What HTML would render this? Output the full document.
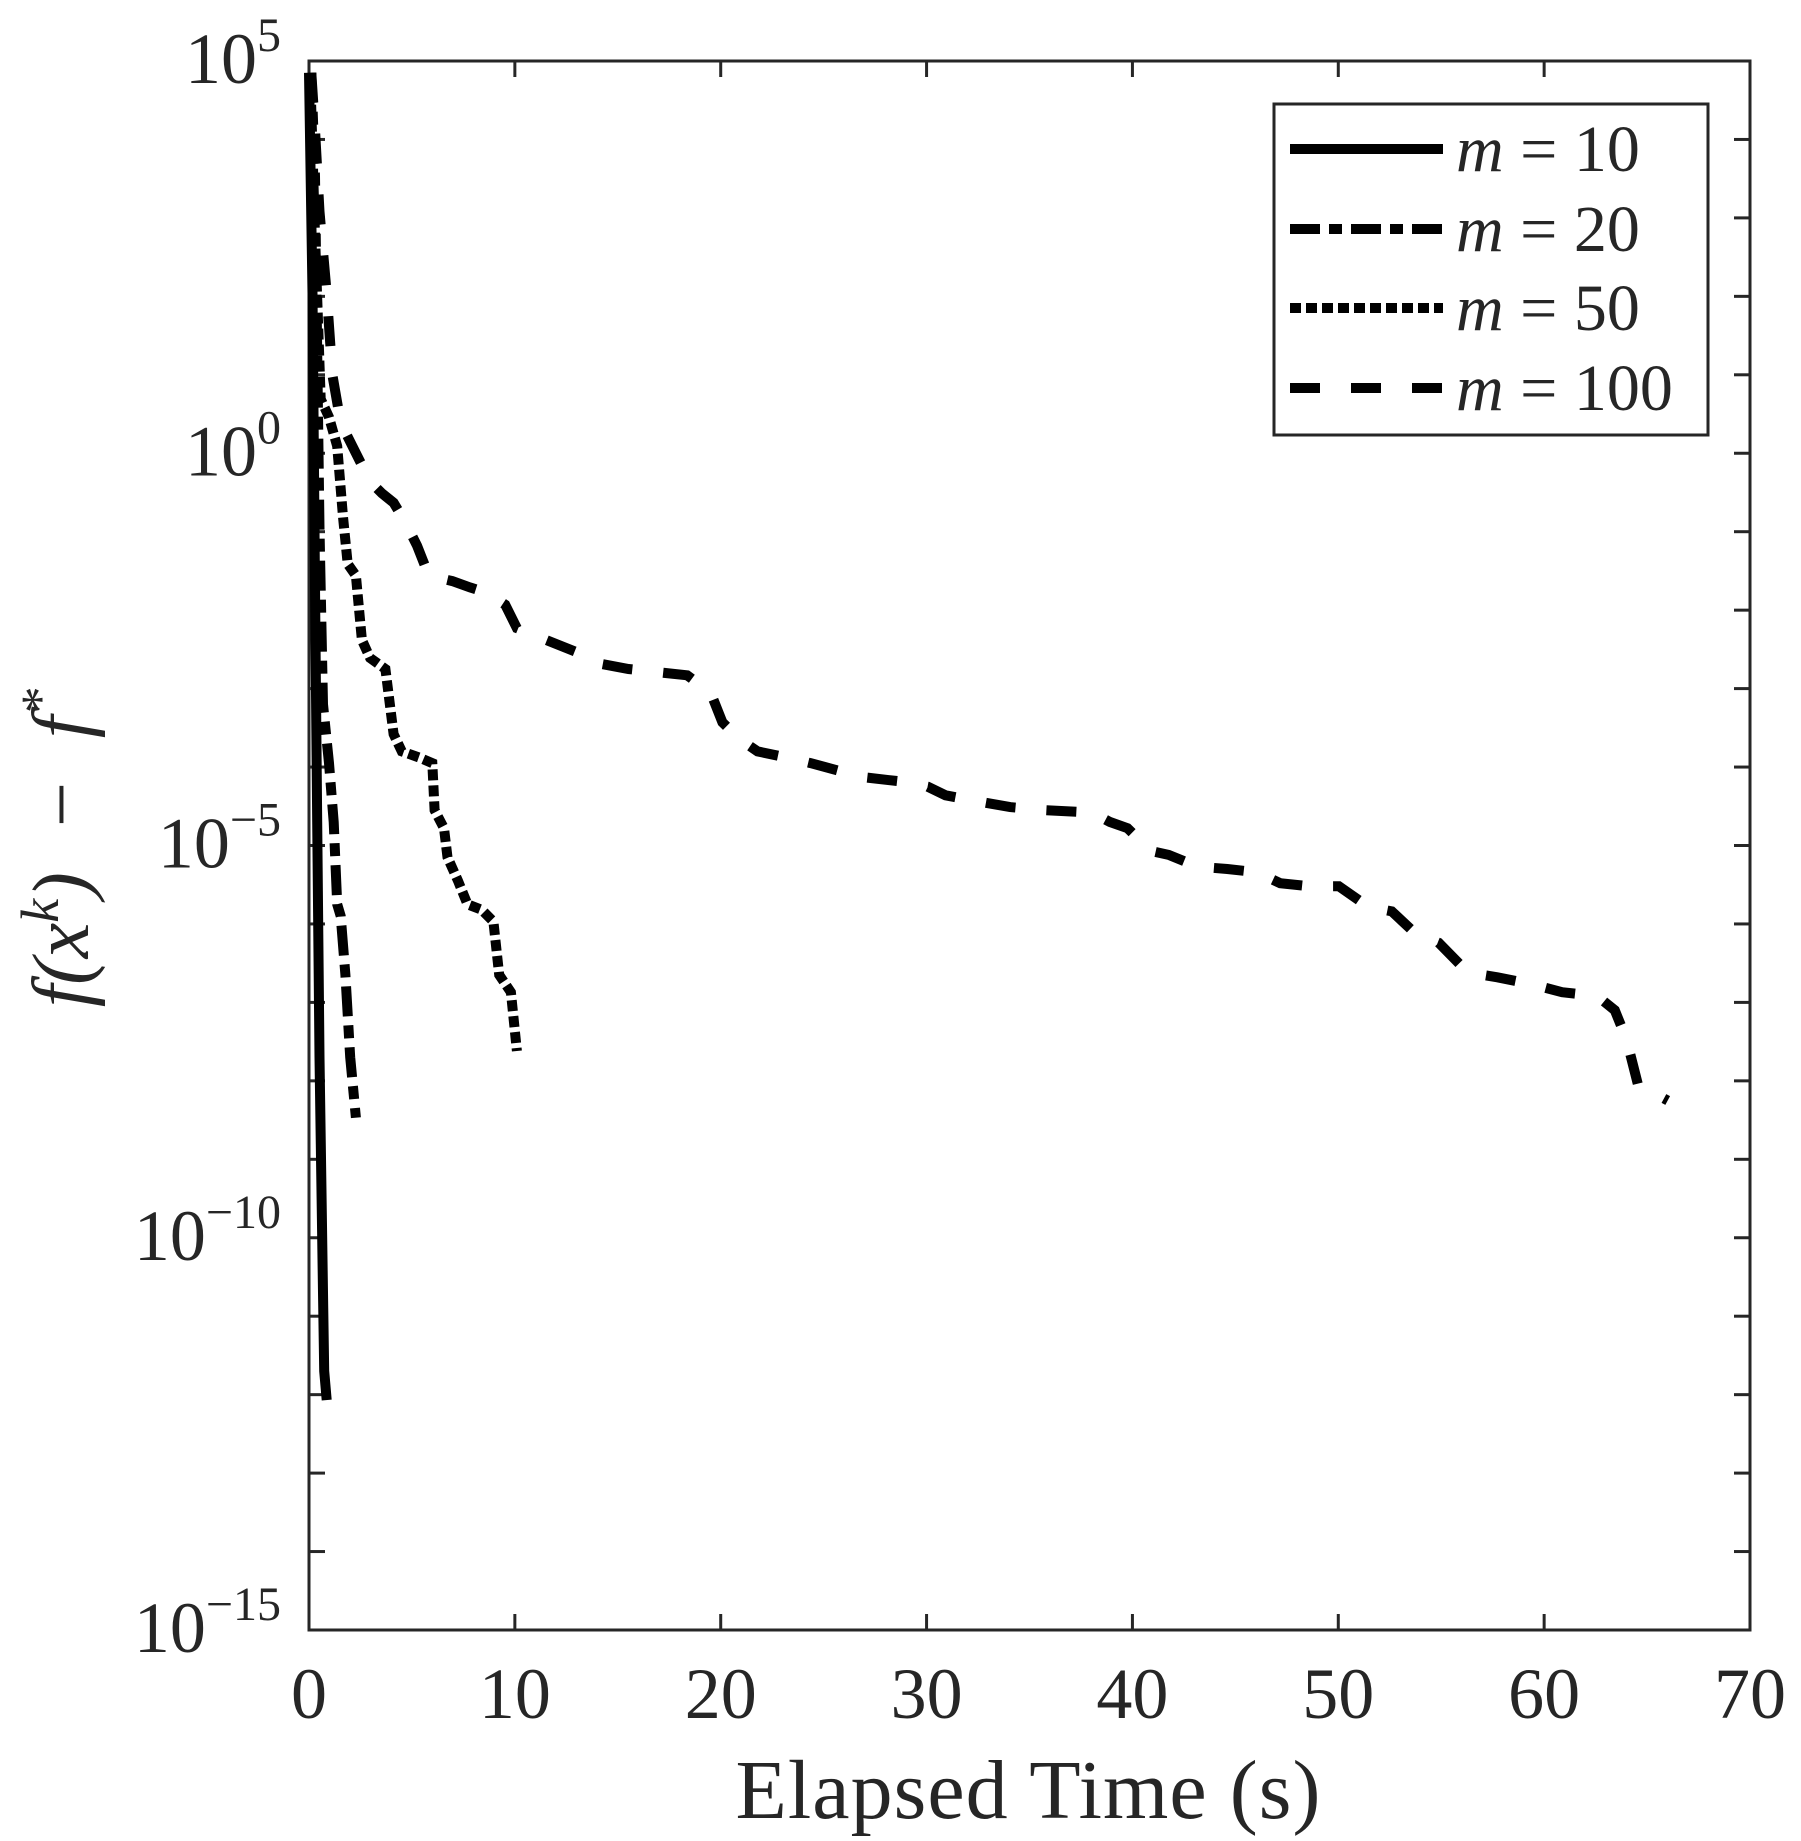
<!DOCTYPE html>
<html><head><meta charset="utf-8">
<style>
html,body{margin:0;padding:0;background:#fff;}
svg{display:block;}
text{font-family:"Liberation Serif",serif;fill:#262626;}
</style></head>
<body>
<svg id="chart" width="1801" height="1841" viewBox="0 0 1801 1841" xmlns="http://www.w3.org/2000/svg">
<rect x="0" y="0" width="1801" height="1841" fill="#fff"/>
<g id="plot-clip-group"></g>
<g id="axes-group"></g>
<g id="series-group"></g>
<g id="legend-group"></g>
</svg>
<script>
// Data (y values are log10 of f(x^k) - f^*)
const xTicks = [0,10,20,30,40,50,60,70];
const yTickExps = [5,0,-5,-10,-15];
const yMinorExps = [5,4,3,2,1,0,-1,-2,-3,-4,-5,-6,-7,-8,-9,-10,-11,-12,-13,-14,-15];
const seriesNames = ["m = 10","m = 20","m = 50","m = 100"];
const m10T = [0,0.17,0.29,0.4,0.51,0.68,0.74,0.86];
const m10Y = [4.85,2.04,-1.7,-4.7,-7.7,-10.7,-11.7,-12.07];
const m20T = [0.11,0.29,0.4,0.51,0.68,0.97,1.2,1.37,1.54,1.77,2.0,2.28];
const m20Y = [4.85,3.53,1.29,-0.96,-3.2,-3.95,-4.7,-5.75,-5.9,-6.65,-7.7,-8.47];
const m50T = [0.06,0.29,0.57,0.97,1.37,1.65,1.88,2.28,2.57,2.97,3.71,4.11,4.51,5.36,5.99,6.10,6.56,6.73,7.24,7.70,8.39,8.96,9.24,9.81,10.1];
const m50Y = [4.85,2.78,0.69,0.46,0.09,-0.81,-1.41,-1.56,-2.38,-2.61,-2.75,-3.58,-3.80,-3.88,-3.95,-4.55,-4.78,-5.15,-5.45,-5.75,-5.82,-5.97,-6.65,-6.87,-7.62];
const m100T = [0.11,0.29,0.51,0.86,1.14,1.54,2.11,2.97,3.54,4.11,4.68,5.25,5.82,6.96,7.82,8.67,9.53,10.1,11.52,12.95,14.09,15.52,18.37,19.51,20.08,20.94,21.79,23.22,24.36,25.5,26.93,28.64,30.06,30.92,32.34,34.06,35.77,38.05,38.91,39.76,40.9,41.76,43.18,44.61,46.04,47.18,48.6,50.03,51.46,52.6,53.74,54.88,56.3,57.73,59.44,60.87,62.58,63.43,64.0,64.58,65.43,66.0];
const m100Y = [4.85,4.13,3.08,2.04,0.99,0.39,0.09,-0.36,-0.51,-0.63,-0.88,-1.18,-1.56,-1.63,-1.71,-1.78,-1.93,-2.23,-2.38,-2.53,-2.68,-2.75,-2.83,-3.05,-3.43,-3.65,-3.80,-3.88,-3.95,-4.03,-4.13,-4.18,-4.25,-4.36,-4.43,-4.51,-4.55,-4.58,-4.70,-4.78,-5.07,-5.12,-5.27,-5.30,-5.34,-5.48,-5.52,-5.52,-5.78,-5.84,-6.12,-6.24,-6.62,-6.68,-6.77,-6.87,-6.92,-7.10,-7.47,-8.07,-8.17,-8.25];

const NS="http://www.w3.org/2000/svg";
const L=309,R=1750,T=61,B=1630;
const xs=t=>L+(t-0)/(70-0)*(R-L);
const ys=e=>T+(5-e)/(5-(-15))*(B-T);
function mk(tag,attrs,parent,txt){const el=document.createElementNS(NS,tag);for(const k in attrs)el.setAttribute(k,attrs[k]);if(txt!==undefined)el.textContent=txt;parent.appendChild(el);return el;}
const axes=document.getElementById('axes-group');
const ser=document.getElementById('series-group');
const leg=document.getElementById('legend-group');
const ink="#262626";

// frame
const frame=mk('rect',{x:L,y:T,width:R-L,height:B-T,fill:'none',stroke:ink,'stroke-width':3},axes);



// x ticks
xTicks.forEach(v=>{
  const x=xs(v);
  const t1=mk('line',{x1:x,y1:B,x2:x,y2:B-16,stroke:ink,'stroke-width':3},axes);
  
  
  const t2=mk('line',{x1:x,y1:T,x2:x,y2:T+16,stroke:ink,'stroke-width':3},axes);
  
  
  const lb=mk('text',{x:x,y:1718,'font-size':72,'text-anchor':'middle'},axes,String(v));
  
  
});
// y minor/major ticks
yMinorExps.forEach(e=>{
  const y=ys(e);
  const t1=mk('line',{x1:L,y1:y,x2:L+16,y2:y,stroke:ink,'stroke-width':3},axes);
  
  
  const t2=mk('line',{x1:R,y1:y,x2:R-16,y2:y,stroke:ink,'stroke-width':3},axes);
  
  
});
yTickExps.forEach(e=>{
  const y=ys(e);
  const lb=mk('text',{x:281,y:y+22,'font-size':72,'text-anchor':'end'},axes);
  
  
  mk('tspan',{},lb,'10');
  mk('tspan',{'font-size':48,dy:-32},lb,(e<0?'\u2212'+(-e):String(e)));
});
// axis titles
const xt=mk('text',{x:1028,y:1818,'font-size':84,'text-anchor':'middle',textLength:585},axes,'Elapsed Time (s)');


const yt=mk('text',{x:0,y:0,'font-size':80,'text-anchor':'middle','font-style':'italic',transform:'translate(88,848) rotate(-90)'},axes);


mk('tspan',{},yt,'f(x');
mk('tspan',{'font-size':54,dy:-30},yt,'k');
mk('tspan',{dy:30},yt,')\u2002\u2212\u2002f');
mk('tspan',{'font-size':54,dy:-30},yt,'*');

// series
const styles=[
  {dash:'none',name:'series-m10'},
  {dash:'30 9 13 9',name:'series-m20'},
  {dash:'11 5',name:'series-m50'},
  {dash:'30 31',name:'series-m100'}
];
const data=[[m10T,m10Y],[m20T,m20Y],[m50T,m50Y],[m100T,m100Y]];
data.forEach((d,i)=>{
  const pts=d[0].map((t,j)=>xs(t).toFixed(1)+','+ys(d[1][j]).toFixed(1)).join(' ');
  const pl=mk('polyline',{points:pts,fill:'none',stroke:'#000','stroke-width':10,'stroke-dasharray':styles[i].dash,'stroke-linejoin':'miter'},ser);
  
  
});

// legend
const lbox=mk('rect',{x:1274,y:104,width:434,height:331,fill:'#fff',stroke:ink,'stroke-width':3},leg);


const legY=[149,229,308,388];
seriesNames.forEach((n,i)=>{
  const ln=mk('line',{x1:1290,y1:legY[i],x2:1443,y2:legY[i],stroke:'#000','stroke-width':10,'stroke-dasharray':styles[i].dash},leg);
  
  
  const tx=mk('text',{x:1456,y:legY[i]+22,'font-size':66},leg);
  
  
  mk('tspan',{'font-style':'italic'},tx,'m');
  mk('tspan',{},tx,' = '+n.split('= ')[1]);
});
</script>
</body></html>
